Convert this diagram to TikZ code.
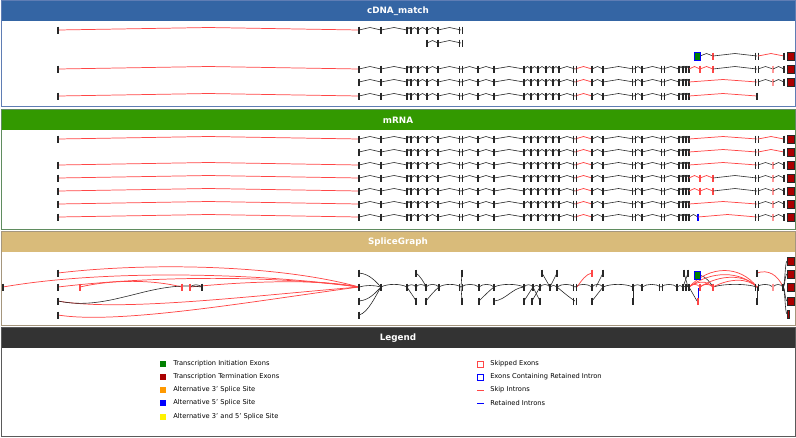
\documentclass[tikz,border=0pt]{standalone}
\usepackage{fontspec}
\setmainfont{DejaVu Sans}
\definecolor{hblue}{RGB}{52,101,164}
\definecolor{bblue}{RGB}{95,125,180}
\definecolor{hgreen}{RGB}{51,153,0}
\definecolor{bgreen}{RGB}{95,140,95}
\definecolor{htan}{RGB}{217,187,122}
\definecolor{btan}{RGB}{165,150,125}
\definecolor{hdark}{RGB}{51,51,51}
\definecolor{bdark}{RGB}{90,90,90}
\definecolor{exdark}{RGB}{40,40,40}
\definecolor{exred}{RGB}{170,0,0}
\definecolor{exgreen}{RGB}{0,128,0}
\definecolor{skred}{RGB}{255,70,70}
\definecolor{pinkx}{RGB}{255,150,150}
\definecolor{altorange}{RGB}{255,153,0}
\tikzset{
 exonl/.style={draw=exdark, line width=0.8pt},
 intb/.style={draw=exdark, line width=0.45pt},
 intr/.style={draw=skred, line width=0.55pt},
 termbox/.style={draw=exdark, line width=0.3pt, fill=exred},
 hdrtext/.style={text=white, font=\bfseries\fontsize{6.6}{8}\selectfont},
 legtext/.style={anchor=west, font=\fontsize{5.0}{6}\selectfont, inner sep=0pt},
}
\newcommand{\gex}[2]{\draw[exonl] (#1,#2-3.5) -- (#1,#2+3.5);}
\newcommand{\gexc}[3]{\draw[exonl,draw=#3] (#1,#2-3.5) -- (#1,#2+3.5);}
\newcommand{\gexd}[2]{\draw[exonl] (#1-1.1,#2-3.5) -- (#1-1.1,#2+3.5) (#1+1.1,#2-3.5) -- (#1+1.1,#2+3.5);}
\newcommand{\gib}[3]{\draw[intb] (#1,#3) -- ({(#1+#2)/2},#3-2.5) -- (#2,#3);}
\newcommand{\gir}[3]{\draw[intr] (#1,#3) -- ({(#1+#2)/2},#3-2.5) -- (#2,#3);}
\newcommand{\gtbox}[1]{\draw[termbox] (787,#1-4) rectangle (794,#1+4);}
\newcommand{\gleft}[1]{\gir{58}{359}{#1}\gex{58}{#1}}
\newcommand{\gchain}[1]{%
 \foreach \a/\b in {359/381,381/407,407/411,411/418,418/427,427/438,438/461,461/478,478/494,494/524,524/531,531/538,538/546,546/553,553/559,559/575,592/603,603/634,634/642,642/663,663/679,679/683,683/686,686/689}{\gib{\a}{\b}{#1}}
 \gir{575}{592}{#1}
 \foreach \x in {359,381,407,411,418,427,438,478,494,524,531,538,546,553,559,592,603,642,679,683,686,689}{\gex{\x}{#1}}
 \foreach \x in {461,575,634,663}{\gexd{\x}{#1}}}
\newcommand{\gendA}[1]{\gir{689}{757}{#1}\gexd{757}{#1}\gir{758}{784}{#1}\gex{784}{#1}\gtbox{#1}}
\newcommand{\gendB}[1]{\gir{689}{757}{#1}\gexd{757}{#1}\gib{758}{773}{#1}\gexc{773}{#1}{pinkx}\gib{773}{784}{#1}\gex{784}{#1}\gtbox{#1}}
\newcommand{\gendC}[1]{\gir{689}{700}{#1}\gexc{700}{#1}{skred}\gir{700}{713}{#1}\gexc{713}{#1}{skred}\gib{713}{757}{#1}\gexd{757}{#1}\gib{758}{773}{#1}\gexc{773}{#1}{pinkx}\gib{773}{784}{#1}\gex{784}{#1}\gtbox{#1}}
\newcommand{\gendD}[1]{\gib{689}{698}{#1}\gexc{698}{#1}{blue}\gir{698}{757}{#1}\gexd{757}{#1}\gib{758}{773}{#1}\gexc{773}{#1}{pinkx}\gib{773}{784}{#1}\gex{784}{#1}\gtbox{#1}}
\newcommand{\garc}[4]{\pgfmathsetmacro\gh{min(3.5,(#2-#1)/3)}\draw[#4] (#1,#3) .. controls ({#1+(#2-#1)*0.25},#3-\gh) and ({#2-(#2-#1)*0.25},#3-\gh) .. (#2,#3);}
\begin{document}
\begin{tikzpicture}[x=0.75pt,y=-0.75pt]
\useasboundingbox (0,0) rectangle (796,437);
% ---------- panels
\fill[hblue] (1,0.5) rectangle (795,21);
\draw[bblue,line width=0.6pt] (1,0.5) rectangle (795,106);
\node[hdrtext] (tcdna) at (398,11) {cDNA\_match};
\fill[hgreen] (1,109) rectangle (795,130);
\draw[bgreen,line width=0.6pt] (1,109) rectangle (795,229);
\node[hdrtext] (tmrna) at (398,120) {mRNA};
\fill[htan] (1,231.5) rectangle (795,252);
\draw[btan,line width=0.6pt] (1,231.5) rectangle (795,325);
\node[hdrtext] (tsg) at (398,242) {SpliceGraph};
\fill[hdark] (1,327.5) rectangle (795,348);
\draw[bdark,line width=0.6pt] (1,327.5) rectangle (795,436.5);
\node[hdrtext] (tleg) at (398,338) {Legend};
% ---------- cDNA_match
\gleft{30}
\foreach \a/\b in {359/381,381/407,407/411,411/418,418/427,427/438,438/461}{\gib{\a}{\b}{30}}
\foreach \x in {359,381,407,411,418,427,438}{\gex{\x}{30}}
\gexd{461}{30}
\gib{427}{438}{43}\gib{438}{461}{43}
\gex{427}{43}\gex{438}{43}\gexd{461}{43}
\gib{700}{713}{56}\gexc{713}{56}{skred}\gib{713}{757}{56}\gexd{757}{56}\gir{758}{784}{56}\gex{784}{56}\gtbox{56}
\draw[fill=exgreen,draw=blue,line width=0.4pt] (694,52) rectangle (700,60);
\gleft{69}\gchain{69}\gendC{69}
\gchain{82}\gendB{82}
\gleft{96}\gchain{96}\gir{689}{757}{96}\gex{757}{96}
% ---------- mRNA
\gleft{139}\gchain{139}\gendA{139}
\gchain{152}\gendA{152}
\gleft{165}\gchain{165}\gendB{165}
\gleft{178}\gchain{178}\gendC{178}
\gleft{191}\gchain{191}\gendC{191}
\gleft{204}\gchain{204}\gendB{204}
\gleft{217}\gchain{217}\gendD{217}
% ---------- SpliceGraph
\draw[intr] (3,287) .. controls (100,270) and (250,272) .. (359,287);
\draw[intr] (58,273) .. controls (150,262) and (280,265) .. (359,287);
\draw[intr] (58,287) .. controls (150,276) and (270,275) .. (359,287);
\draw[intr] (80,287) .. controls (110,280) and (150,279) .. (182,287);
\draw[intr] (190,287) .. controls (250,281) and (320,279) .. (359,287);
\draw[intr] (58,301) .. controls (120,312) and (250,296) .. (359,287);
\draw[intr] (58,315) .. controls (120,325) and (260,300) .. (359,287);
\draw[intb] (58,301) .. controls (110,312) and (150,280) .. (202,287);
\draw[intb] (190,287) .. controls (194,284) and (198,284) .. (202,287);
\gex{3}{287}
\foreach \yy in {273,287,301,315}{\gex{58}{\yy}\gex{359}{\yy}}
\gexc{80}{287}{skred}\gexc{182}{287}{skred}\gexc{190}{287}{skred}\gex{202}{287}
\draw[intb] (359,273) .. controls (370,274) and (376,282) .. (381,287);
\draw[intb] (359,287) .. controls (366,285) and (374,285) .. (381,287);
\draw[intb] (359,301) .. controls (370,300) and (376,292) .. (381,287);
\draw[intb] (359,315) .. controls (368,313) and (376,295) .. (381,287);
\foreach \a/\b in {381/407,407/416,416/426,426/439,439/461,461/479,479/494,494/524,524/533,533/540,540/550,550/557,557/575,575/592,592/603,603/633,633/642,642/661,661/677,677/683,683/686,686/689,713/757,757/773,773/783}{\garc{\a}{\b}{287}{intb}}
\garc{689}{700}{287}{intr}\garc{700}{713}{287}{intr}
\draw[intb] (416,273) .. controls (420,276) and (424,282) .. (426,287);
\draw[intb] (407,287) .. controls (410,292) and (414,297) .. (416,301);
\draw[intb] (426,301) .. controls (430,296) and (435,290) .. (439,287);
\draw[intb] (462,273) -- (461,287) -- (462,301);
\draw[intb] (479,301) .. controls (484,296) and (490,290) .. (494,287);
\draw[intb] (494,301) .. controls (506,300) and (512,288) .. (524,287);
\draw[intb] (524,301) -- (533,287);
\draw[intb] (533,287) -- (540,301);
\draw[intb] (540,287) -- (532,301);
\draw[intb] (542,273) -- (550,287);
\draw[intb] (557,273) -- (550,287);
\draw[intb] (557,287) .. controls (563,292) and (570,298) .. (575,301);
\draw[intr] (577,287) .. controls (582,280) and (586,274) .. (592,273);
\draw[intb] (603,273) -- (596,287);
\draw[intb] (592,301) -- (603,287);
\draw[intb] (633,287) -- (633,301);
\draw[intb] (684,273) -- (688,287);
\draw[intb] (688,273) -- (683,287);
\draw[intb] (700,275) .. controls (706,277) and (710,282) .. (713,287);
\draw[intb] (689,287) -- (697,301);
\draw[blue,line width=0.5pt] (698,288) -- (698,301);
\draw[intr] (689,287) .. controls (710,265) and (740,265) .. (757,287);
\draw[intr] (689,287) .. controls (712,270) and (740,271) .. (757,287);
\draw[intr] (700,287) .. controls (720,274) and (745,274) .. (757,287);
\draw[intr] (713,287) .. controls (730,278) and (748,278) .. (757,287);
\draw[intr] (689,287) .. controls (698,281) and (706,280) .. (713,287);
\draw[intr] (757,273) .. controls (768,269) and (778,275) .. (783,287);
\draw[intb] (757,287) -- (757,301);
\foreach \yy in {261,274,301,314}{\draw[intb] (783,287) .. controls (785,287) and (785,\yy) .. (787,\yy);}
\foreach \x in {381,407,416,426,439,479,494,524,533,540,550,557,592,603,633,642,677,683,686,689,783}{\gex{\x}{287}}
\foreach \x in {461,575,661,757}{\gexd{\x}{287}}
\gexc{700}{287}{skred}\gexc{713}{287}{skred}\gexc{773}{287}{pinkx}
\foreach \x in {416,462,542,557,603,684,688,757}{\gex{\x}{273}}
\gexc{592}{273}{skred}
\foreach \x in {416,426,462,479,494,524,532,540,592,633,757}{\gex{\x}{301}}
\gexd{575}{301}
\gexc{698}{301}{skred}
\draw[fill=exgreen,draw=blue,line width=0.4pt] (694,271) rectangle (700,279);
\foreach \yy in {261,274,287,301}{\draw[termbox] (787,\yy-4) rectangle (794,\yy+4);}
\draw[termbox] (787,310) rectangle (789,318);
% ---------- Legend
\fill[exgreen] (160,361) rectangle (166,367);
\fill[exred] (160,374) rectangle (166,380);
\fill[altorange] (160,387) rectangle (166,393);
\fill[blue] (160,400) rectangle (166,406);
\fill[yellow] (160,414) rectangle (166,420);
\node[legtext] (l1) at (173,364) {Transcription Initiation Exons};
\node[legtext] (l2) at (173,377) {Transcription Termination Exons};
\node[legtext] (l3) at (173,390) {Alternative 3' Splice Site};
\node[legtext] (l4) at (173,403) {Alternative 5' Splice Site};
\node[legtext] (l5) at (173,417) {Alternative 3' and 5' Splice Site};
\draw[skred,line width=0.6pt] (477.5,361) rectangle (483.5,367);
\draw[blue,line width=0.6pt] (477.5,374) rectangle (483.5,380);
\draw[skred,line width=0.6pt] (477,390) -- (484,390);
\draw[blue,line width=0.6pt] (477,403) -- (484,403);
\node[legtext] (r1) at (490,364) {Skipped Exons};
\node[legtext] (r2) at (490,377) {Exons Containing Retained Intron};
\node[legtext] (r3) at (490,390) {Skip Introns};
\node[legtext] (r4) at (490,403) {Retained Introns};
\end{tikzpicture}
\end{document}
